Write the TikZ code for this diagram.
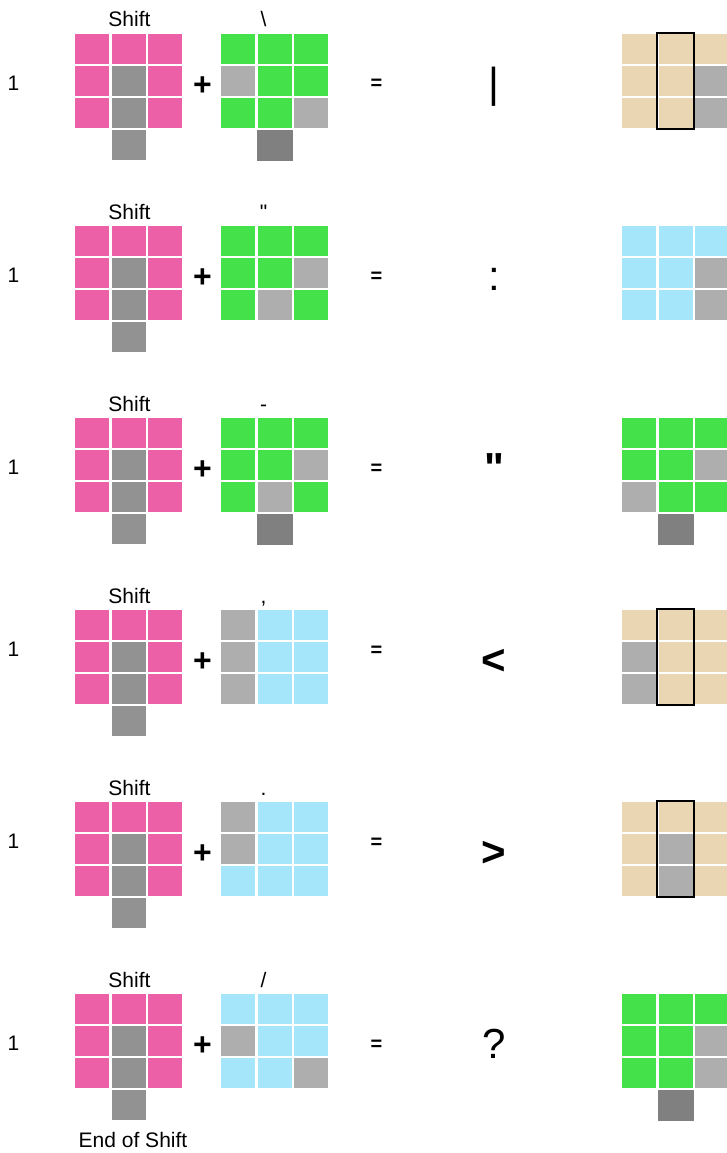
\documentclass[tikz,border=0pt]{standalone}
\usepackage{fontspec}
\setmainfont{Liberation Sans}
\usetikzlibrary{positioning}
\definecolor{shiftpink}{RGB}{236,96,168}
\definecolor{shiftgray}{RGB}{146,146,146}
\definecolor{keygreen}{RGB}{69,225,74}
\definecolor{keyblue}{RGB}{166,230,251}
\definecolor{keytan}{RGB}{235,214,180}
\definecolor{graylight}{RGB}{174,174,174}
\definecolor{graydark}{RGB}{128,128,128}

% cell (column #2, row #3) of the key whose top left corner is (#4,#5)
\newcommand{\kcell}[5]{\fill[#1] ({#4+36.5*#2},{#5+32*#3}) rectangle ++(34,29.7);}
\newcommand{\kgrid}[3]{\foreach \kc in {0,1,2} {\foreach \kr in {0,1,2} {\kcell{#1}{\kc}{\kr}{#2}{#3}}}}
\newcommand{\kfoot}[3]{\fill[#1] ({#2+35.5},{#3+95.8}) rectangle ++(36,31.2);}
\newcommand{\kmark}[2]{\draw[line width=1.5pt] ({#1+35.2},{#2-1.2}) rectangle ++(36.6,96);}
% the Shift key, the 1, the + and the = of one row
\newcommand{\shiftrow}[3]{%
  \kgrid{shiftpink}{75}{#2}
  \kcell{shiftgray}{1}{1}{75}{#2}\kcell{shiftgray}{1}{2}{75}{#2}\kcell{shiftgray}{1}{3}{75}{#2}
  \node[lbl] (shift#1) at (129.5,{#2-7}) {Shift};
  \node[lbl] (one#1) at (13.5,{#2+56.5-#3}) {1};
  \node[lbl, font=\fontsize{32}{32}\selectfont\bfseries] (plus#1) at (202.5,{#2+61.5}) {+};
  \node[lbl, font=\fontsize{20}{20}\selectfont\bfseries] (eq#1) at (376.5,{#2+56-#3}) {=};
}

\begin{document}
\begin{tikzpicture}[
    x=1pt, y=-1pt,
    lbl/.style={anchor=base, inner sep=0pt, font=\fontsize{21}{21}\selectfont},
    res/.style={anchor=base, inner sep=0pt, font=\fontsize{42}{42}\selectfont},
    resb/.style={res, font=\fontsize{42}{42}\selectfont\bfseries},
]
\useasboundingbox (0,0) rectangle (727,1153);
\fill[white] (0,0) rectangle (727,1153);
\clip (0,0) rectangle (727,1153);

\shiftrow{1}{34}{0}
\kgrid{keygreen}{221}{34}
\kcell{graylight}{0}{1}{221}{34}\kcell{graylight}{2}{2}{221}{34}
\kfoot{graydark}{221}{34}
\node[lbl] (key1) at (263.5,27) {\textbackslash};
\node[res] (res1) at (494,98) {|};
\kgrid{keytan}{622}{34}
\kcell{graylight}{2}{1}{622}{34}\kcell{graylight}{2}{2}{622}{34}
\kmark{622}{34}

\shiftrow{2}{226}{0}
\kgrid{keygreen}{221}{226}
\kcell{graylight}{2}{1}{221}{226}\kcell{graylight}{1}{2}{221}{226}
\node[lbl] (key2) at (263.5,219) {\textquotedbl};
\node[res] (res2) at (494,290) {:};
\kgrid{keyblue}{622}{226}
\kcell{graylight}{2}{1}{622}{226}\kcell{graylight}{2}{2}{622}{226}

\shiftrow{3}{418}{0}
\kgrid{keygreen}{221}{418}
\kcell{graylight}{2}{1}{221}{418}\kcell{graylight}{1}{2}{221}{418}
\kfoot{graydark}{221}{418}
\node[lbl] (key3) at (263.5,411) {-};
\node[resb] (res3) at (494,482) {\textquotedbl};
\kgrid{keygreen}{622}{418}
\kcell{graylight}{2}{1}{622}{418}\kcell{graylight}{0}{2}{622}{418}
\kfoot{graydark}{622}{418}

\shiftrow{4}{610}{10}
\kgrid{keyblue}{221}{610}
\kcell{graylight}{0}{0}{221}{610}\kcell{graylight}{0}{1}{221}{610}\kcell{graylight}{0}{2}{221}{610}
\node[lbl] (key4) at (263.5,603) {,};
\node[resb] (res4) at (494,674) {<};
\kgrid{keytan}{622}{610}
\kcell{graylight}{0}{1}{622}{610}\kcell{graylight}{0}{2}{622}{610}
\kmark{622}{610}

\shiftrow{5}{802}{10}
\kgrid{keyblue}{221}{802}
\kcell{graylight}{0}{0}{221}{802}\kcell{graylight}{0}{1}{221}{802}
\node[lbl] (key5) at (263.5,795) {.};
\node[resb] (res5) at (494,866) {>};
\kgrid{keytan}{622}{802}
\kcell{graylight}{1}{1}{622}{802}\kcell{graylight}{1}{2}{622}{802}
\kmark{622}{802}

\shiftrow{6}{994}{0}
\kgrid{keyblue}{221}{994}
\kcell{graylight}{0}{1}{221}{994}\kcell{graylight}{2}{2}{221}{994}
\node[lbl] (key6) at (263.5,987) {/};
\node[res] (res6) at (494,1058) {?};
\kgrid{keygreen}{622}{994}
\kcell{graylight}{2}{1}{622}{994}\kcell{graylight}{2}{2}{622}{994}
\kfoot{graydark}{622}{994}
\node[lbl] (endshift) at (133,1147) {End of Shift};
\end{tikzpicture}
\end{document}
